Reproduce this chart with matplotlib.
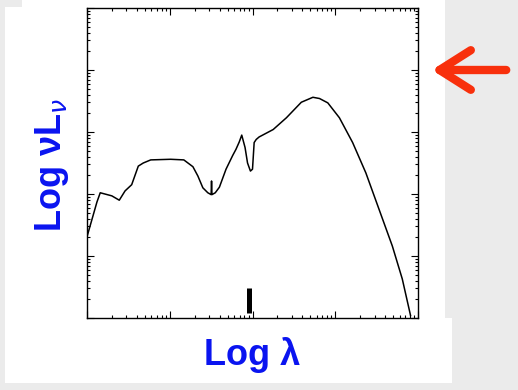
import numpy as np
import matplotlib.pyplot as plt
from matplotlib.patches import Rectangle, FancyArrowPatch

# SED (log10 of wavelength, log10 of nu*L_nu)
log_lam = [-1.00, -0.94, -0.88, -0.84, -0.70, -0.61, -0.54, -0.46, -0.38, -0.32,
           -0.23, 0.01, 0.17, 0.28, 0.34, 0.40, 0.46, 0.50, 0.505, 0.51,
           0.55, 0.60, 0.68, 0.76, 0.80, 0.84, 0.87, 0.91, 0.94, 0.975,
           1.00, 1.02, 1.045, 1.08, 1.25, 1.41, 1.59, 1.73, 1.81, 1.91,
           2.05, 2.21, 2.37, 2.53, 2.69, 2.81, 2.91]
log_L = [1.31, 1.59, 1.87, 2.02, 1.97, 1.90, 2.05, 2.15, 2.45, 2.50,
         2.55, 2.56, 2.55, 2.44, 2.29, 2.10, 2.02, 1.99, 2.21, 1.99,
         2.02, 2.11, 2.40, 2.62, 2.72, 2.84, 2.95, 2.75, 2.50, 2.37,
         2.40, 2.83, 2.88, 2.92, 3.04, 3.23, 3.48, 3.56, 3.54, 3.47,
         3.23, 2.83, 2.34, 1.75, 1.16, 0.63, 0.04]
marker_lam = 10 ** 0.958   # black bar near the bottom axis

lam = 10 ** np.array(log_lam)
L = 10 ** np.array(log_L)

W, H = 518, 390
fig = plt.figure(figsize=(W / 100, H / 100), dpi=100, facecolor='#ebebeb')

# white slide areas
def px_rect(x0, y0, x1, y1):
    fig.patches.append(Rectangle((x0 / W, 1 - y1 / H), (x1 - x0) / W, (y1 - y0) / H,
                                 transform=fig.transFigure, facecolor='white',
                                 edgecolor='none', zorder=-10))

px_rect(5, 7, 445, 318)
px_rect(22, 0, 445, 7)
px_rect(5, 318, 452, 383)

ax = fig.add_axes([87 / W, 1 - 318 / H, 331 / W, 310 / H])
ax.set_facecolor('white')
ax.plot(lam, L, color='black', linewidth=1.1)
ax.axvline(marker_lam, ymin=0.016, ymax=0.097, color='black', linewidth=3.6, solid_capstyle='butt')

ax.set_xscale('log')
ax.set_yscale('log')
ax.set_xlim(1e-1, 1e3)
ax.set_ylim(1e0, 1e5)
ax.tick_params(which='both', direction='in', top=True, right=True,
               labelbottom=False, labelleft=False, color='black', width=0.8)
ax.tick_params(which='major', length=5)
ax.tick_params(which='minor', length=2.5)
for s in ax.spines.values():
    s.set_linewidth(1.0)

blue = '#0a14f0'
fig.text(52 / W, 1 - 165 / H, 'Log νL$_{\\nu}$', rotation=90, ha='center', va='center',
         color=blue, fontsize=26, fontweight='bold', family='Liberation Sans')
fig.text(252 / W, 1 - 355 / H, 'Log λ', ha='center', va='center',
         color=blue, fontsize=26, fontweight='bold', family='Liberation Sans')

arrow = FancyArrowPatch((509 / W, 1 - 70 / H), (429 / W, 1 - 70 / H),
                        transform=fig.transFigure, arrowstyle='->,head_length=1.5,head_width=0.95',
                        mutation_scale=15, color='#f8300c', linewidth=6,
                        capstyle='round', joinstyle='round')
fig.patches.append(arrow)

fig.savefig('out.png', dpi=100, facecolor=fig.get_facecolor())
